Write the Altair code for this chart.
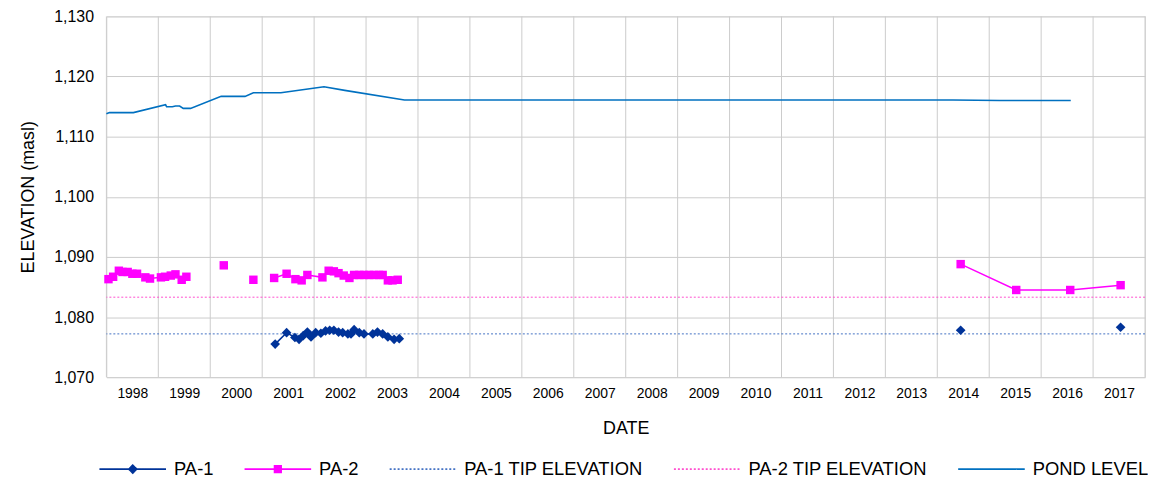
import altair as alt
import pandas as pd

# ---------------- data (decimal years, elevations in masl) ----------------
POND_X = [1998.0, 1998.06, 1998.2, 1998.52, 1999.14, 1999.16, 1999.27, 1999.33,
          1999.41, 1999.48, 1999.62, 2000.21, 2000.67, 2000.83, 2001.36, 2002.19,
          2002.59, 2003.74, 2014.3, 2015.2, 2016.57]
POND_Y = [1113.8, 1114.0, 1114.0, 1114.0, 1115.3, 1114.96, 1114.96, 1115.1,
          1115.1, 1114.7, 1114.7, 1116.7, 1116.7, 1117.3, 1117.3, 1118.3,
          1117.7, 1116.1, 1116.1, 1116.0, 1116.0]

PA2_X = [1998.04, 1998.13, 1998.24, 1998.31, 1998.41, 1998.50, 1998.59, 1998.75,
         1998.84, 1999.05, 1999.13, 1999.24, 1999.33, 1999.45, 1999.54,
         2000.26,
         2000.83,
         2001.23, 2001.47, 2001.64, 2001.76, 2001.87, 2002.16, 2002.28, 2002.38,
         2002.47, 2002.57, 2002.68, 2002.77, 2002.87, 2002.96, 2003.06, 2003.15,
         2003.25, 2003.32, 2003.42, 2003.51, 2003.61,
         2014.45, 2015.52, 2016.56, 2017.53]
PA2_Y = [1086.3, 1086.7, 1087.7, 1087.5, 1087.5, 1087.2, 1087.2, 1086.6,
         1086.4, 1086.6, 1086.7, 1086.9, 1087.1, 1086.2, 1086.7,
         1088.6,
         1086.2,
         1086.5, 1087.2, 1086.3, 1086.1, 1087.0, 1086.6, 1087.7, 1087.6,
         1087.3, 1086.9, 1086.5, 1087.0, 1087.0, 1087.0, 1087.0, 1087.0,
         1087.0, 1087.0, 1086.1, 1086.1, 1086.2,
         1088.8, 1084.5, 1084.5, 1085.3]
PA2_SEG = [1] * 15 + [2] + [3] + [4] * 21 + [5] * 4

PA1_X = [2001.25, 2001.47, 2001.63, 2001.71, 2001.79, 2001.87, 2001.94, 2002.03,
         2002.13, 2002.22, 2002.30, 2002.38, 2002.47, 2002.55, 2002.65, 2002.71,
         2002.77, 2002.87, 2002.96, 2003.13, 2003.22, 2003.32, 2003.42, 2003.54,
         2003.64,
         2014.45,
         2017.53]
PA1_Y = [1075.5, 1077.4, 1076.6, 1076.3, 1076.9, 1077.5, 1076.7, 1077.4,
         1077.3, 1077.7, 1077.8, 1077.8, 1077.5, 1077.4, 1077.2, 1077.2,
         1077.9, 1077.4, 1077.2, 1077.2, 1077.5, 1077.2, 1076.7, 1076.3,
         1076.4,
         1077.8,
         1078.3]
PA1_SEG = [1] * 25 + [2] + [3]

PA1_TIP = 1077.2
PA2_TIP = 1083.3

YEAR_BOUNDS = [1998, 1999, 2000, 2001, 2002, 2003, 2004, 2005, 2006, 2007, 2008,
               2009, 2010, 2011, 2012, 2013, 2014, 2015, 2016, 2017, 2018]
YEAR_LABEL_POS = [1998.5, 1999.5, 2000.5, 2001.5, 2002.5, 2003.5, 2004.5, 2005.5,
                  2006.5, 2007.5, 2008.5, 2009.5, 2010.5, 2011.5, 2012.5, 2013.5,
                  2014.5, 2015.5, 2016.5, 2017.5]
Y_TICKS = [1070, 1080, 1090, 1100, 1110, 1120, 1130]

SERIES = ["PA-1", "PA-2", "PA-1 TIP ELEVATION", "PA-2 TIP ELEVATION", "POND LEVEL"]
COLORS = ["#003399", "#FF00FF", "#4472C4", "#FF4FCF", "#0070C0"]
# legend glyphs: line with marker (path in unit box)
LEG_SHAPES = [
    "M-1,0L1,0M0,-0.12L0.12,0L0,0.12L-0.12,0Z",
    "M-1,0L1,0M-0.1,-0.1L0.1,-0.1L0.1,0.1L-0.1,0.1Z",
    "M-1,0L1,0",
    "M-1,0L1,0",
    "M-1,0L1,0",
]
LEG_DASH = [[1, 0], [1, 0], [2, 2], [2, 2], [1, 0]]

FONT = "Liberation Sans"
GRID = "#cccccc"

pond = pd.DataFrame({"x": POND_X, "y": POND_Y})
pa2 = pd.DataFrame({"x": PA2_X, "y": PA2_Y, "seg": PA2_SEG})
pa1 = pd.DataFrame({"x": PA1_X, "y": PA1_Y, "seg": PA1_SEG})
years = pd.DataFrame({"x": YEAR_BOUNDS})
tips = pd.DataFrame({"y": [PA1_TIP, PA2_TIP], "s": ["PA-1 TIP", "PA-2 TIP"]})
leg = pd.DataFrame({"series": SERIES, "x": [2000] * 5, "y": [1100] * 5})

xscale = alt.Scale(domain=[1998, 2018], nice=False, zero=False)
yscale = alt.Scale(domain=[1070, 1130], nice=False, zero=False)

x_axis = alt.Axis(values=YEAR_LABEL_POS, labelExpr="floor(datum.value)",
                  grid=False, ticks=False, tickSize=0, domain=False,
                  labelFont=FONT, labelFontSize=14, labelColor="#000000",
                  labelPadding=9, title="DATE", titleFont=FONT, titleFontSize=18,
                  titleFontWeight="normal", titleColor="#000000",
                  titleY=52, titleBaseline="middle")
y_axis = alt.Axis(values=Y_TICKS, format=",", grid=True, gridColor=GRID,
                  gridWidth=1, ticks=False, tickSize=0, domain=False,
                  labelFont=FONT, labelFontSize=16, labelColor="#000000",
                  labelPadding=13, title="ELEVATION (masl)", titleFont=FONT,
                  titleFontSize=18, titleFontWeight="normal", titleColor="#000000",
                  titleX=-78, titleY=181.5, titleBaseline="middle")

base_x = alt.X("x:Q", scale=xscale, axis=x_axis)

vgrid = alt.Chart(years).mark_rule(color=GRID, strokeWidth=1).encode(
    x=alt.X("x:Q", scale=xscale, axis=x_axis),
    y=alt.value(0), y2=alt.value(363))

ybase = alt.Chart(pond).mark_line(strokeWidth=1.6, color="#0070C0").encode(
    x=base_x, y=alt.Y("y:Q", scale=yscale, axis=y_axis))

tip1 = alt.Chart(tips).transform_filter("datum.s == 'PA-1 TIP'").mark_rule(
    color="#4472C4", strokeWidth=1, strokeDash=[2, 2]).encode(
    y=alt.Y("y:Q", scale=yscale))
tip2 = alt.Chart(tips).transform_filter("datum.s == 'PA-2 TIP'").mark_rule(
    color="#FF4FCF", strokeWidth=1, strokeDash=[2, 2]).encode(
    y=alt.Y("y:Q", scale=yscale))

pa2_line = alt.Chart(pa2).mark_line(color="#FF00FF", strokeWidth=1.5).encode(
    x=alt.X("x:Q", scale=xscale), y=alt.Y("y:Q", scale=yscale), detail="seg:N")
pa2_pts = alt.Chart(pa2).mark_point(shape="square", filled=True, size=72,
                                    color="#FF00FF", opacity=1).encode(
    x=alt.X("x:Q", scale=xscale), y=alt.Y("y:Q", scale=yscale))

pa1_line = alt.Chart(pa1).mark_line(color="#003399", strokeWidth=1.5).encode(
    x=alt.X("x:Q", scale=xscale), y=alt.Y("y:Q", scale=yscale), detail="seg:N")
pa1_pts = alt.Chart(pa1).mark_point(shape="diamond", filled=True, size=95,
                                    color="#003399", opacity=1).encode(
    x=alt.X("x:Q", scale=xscale), y=alt.Y("y:Q", scale=yscale))

legend = alt.Legend(title=None, orient="none", legendX=-8, legendY=421,
                    direction="horizontal", columns=5, symbolSize=4489,
                    symbolStrokeWidth=1.6, symbolOpacity=1, labelFont=FONT,
                    labelFontSize=18.5, labelColor="#000000", labelOffset=7,
                    columnPadding=27, labelLimit=400)

leg_layer = alt.Chart(leg).transform_filter("false").mark_point(
    filled=True, opacity=1, strokeWidth=1.6).encode(
    x=alt.X("x:Q", scale=xscale), y=alt.Y("y:Q", scale=yscale),
    fill=alt.Fill("series:N", scale=alt.Scale(domain=SERIES, range=COLORS), legend=legend),
    stroke=alt.Stroke("series:N", scale=alt.Scale(domain=SERIES, range=COLORS), legend=legend),
    shape=alt.Shape("series:N", scale=alt.Scale(domain=SERIES, range=LEG_SHAPES), legend=legend),
    strokeDash=alt.StrokeDash("series:N", scale=alt.Scale(domain=SERIES, range=LEG_DASH), legend=legend),
)

chart = alt.layer(vgrid, ybase, tip1, tip2, pa2_line, pa2_pts, pa1_line, pa1_pts,
                  leg_layer).properties(
    width=1045, height=363,
    autosize=alt.AutoSizeParams(type="none"),
    padding={"left": 99, "top": 7, "right": 3, "bottom": 100},
).configure_view(stroke=None).configure(background="#ffffff")

chart.save("out.html", embed_options={"renderer": "svg", "actions": False})
